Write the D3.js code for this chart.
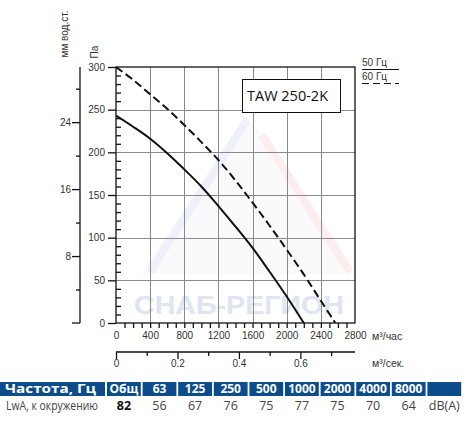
<!DOCTYPE html>
<html><head><meta charset="utf-8">
<script src="https://cdn.jsdelivr.net/npm/d3@7"></script>
<style>
html,body{margin:0;padding:0;background:#fff;}
svg{display:block;}
</style></head>
<body>
<svg id="c" width="472" height="424"></svg>
<script>
// ---- data ----
const flow50 = [0,200,400,600,800,1000,1200,1400,1600,1800,2000,2200];
const pa50   = [243,230,216,199,180,160,137,113,88,60,31,0];
const flow60 = [0,200,400,600,800,1000,1200,1400,1600,1800,2000,2200,2400,2570];
const pa60   = [300,285,268,251,232,212,191,167,141,114,86,57,26,0];
const paTicks = [0,50,100,150,200,250,300];
const mmMajor = [8,16,24];
const mmMinor = [4,12,20,28];
const flowTicks = [0,400,800,1200,1600,2000,2400,2800];
const secMajor = [0,0.2,0.4,0.6];
const secMinor = [0.1,0.3,0.5,0.7];
const legendLabels = ["50 Гц","60 Гц"];
const modelName = "TAW 250-2K";
const tableHeader = ["Частота, Гц","Общ","63","125","250","500","1000","2000","4000","8000",""];
const tableRowLabel = "LwA, к окружению";
const tableValues = ["82","56","67","76","75","77","75","70","64"];
const tableUnit = "dB(A)";

const svg = d3.select("#c");
const L=116,R=355,T=67,B=323;
const x = d3.scaleLinear().domain([0,2800]).range([L,R]);
const y = d3.scaleLinear().domain([0,300]).range([B,T]);
const yMm = d3.scaleLinear().domain([0,300/9.80665]).range([B,T]);
const xSec = d3.scaleLinear().domain([0,2800/3600]).range([L,R]);
const axisFont = "Liberation Sans, Arial, sans-serif";
const txtCol = "#333";

// watermark
const wm = svg.append("g").attr("opacity",0.08);
wm.append("path").attr("d","M140,274 L247,118 L262,135 L352,274 Z").attr("fill","#c8cde0");
wm.append("path").attr("d","M150,272 L247,120").attr("stroke","#3a55c0").attr("stroke-width",8).attr("fill","none");
wm.append("path").attr("d","M262,135 L350,272").attr("stroke","#e03030").attr("stroke-width",8).attr("fill","none");
svg.append("text").attr("x",134).attr("y",314).attr("textLength",210).attr("lengthAdjust","spacingAndGlyphs")
  .attr("font-family","Liberation Sans, Arial, sans-serif").attr("font-weight","bold").attr("font-size",26)
  .attr("fill","#e0e4f3").text("СНАБ-РЕГИОН");

// grid
const grid = svg.append("g").attr("stroke","#8a8a8a").attr("stroke-width",1);
flowTicks.slice(1,-1).forEach(v=>grid.append("line").attr("x1",Math.round(x(v))+0.5).attr("x2",Math.round(x(v))+0.5).attr("y1",T).attr("y2",B));
paTicks.slice(1,-1).forEach(v=>grid.append("line").attr("y1",Math.round(y(v))+0.5).attr("y2",Math.round(y(v))+0.5).attr("x1",L).attr("x2",R));

// frame
svg.append("rect").attr("x",L).attr("y",T).attr("width",R-L).attr("height",B-T)
  .attr("fill","none").attr("stroke","#111").attr("stroke-width",1.3);

// Pa axis (left)
const ya = svg.append("g").attr("transform",`translate(${L},0)`)
  .call(d3.axisLeft(y).tickValues(paTicks).tickSize(8).tickPadding(3));
ya.select(".domain").remove();
ya.selectAll("line").attr("stroke","#111").attr("stroke-width",1.3);
ya.selectAll("text").attr("font-family",axisFont).attr("font-size",10).attr("fill",txtCol);
const yMinor = d3.range(10,300,10).filter(v=>v%50!==0);
svg.append("g").attr("transform",`translate(${L},0)`)
  .call(d3.axisRight(y).tickValues(yMinor).tickSize(5).tickFormat(""))
  .call(g=>g.select(".domain").remove())
  .selectAll("line").attr("stroke","#111").attr("stroke-width",1.3);

// mm axis
const mmX = 80;
const mma = svg.append("g").attr("transform",`translate(${mmX},0)`)
  .call(d3.axisLeft(yMm).tickValues(mmMajor).tickSize(8).tickPadding(1));
mma.select(".domain").remove();
mma.selectAll("line").attr("stroke","#111").attr("stroke-width",1.3);
mma.selectAll("text").attr("font-family",axisFont).attr("font-size",10).attr("fill",txtCol);
svg.append("g").attr("transform",`translate(${mmX},0)`)
  .call(d3.axisLeft(yMm).tickValues(mmMinor).tickSize(4).tickFormat(""))
  .call(g=>g.select(".domain").remove())
  .selectAll("line").attr("stroke","#111").attr("stroke-width",1.3);
svg.append("line").attr("x1",mmX).attr("x2",mmX).attr("y1",T).attr("y2",B).attr("stroke","#111").attr("stroke-width",1.3);
svg.append("line").attr("x1",mmX-8).attr("x2",mmX).attr("y1",B).attr("y2",B).attr("stroke","#111").attr("stroke-width",1.3);

svg.append("text").attr("transform","translate(68,34) rotate(-90)").attr("text-anchor","middle")
  .attr("font-family",axisFont).attr("font-size",10).attr("fill",txtCol).text("мм вод.ст.");
svg.append("text").attr("transform","translate(98,52) rotate(-90)").attr("text-anchor","middle")
  .attr("font-family",axisFont).attr("font-size",10).attr("fill",txtCol).text("Па");

// flow axis (m3/h)
const xa = svg.append("g").attr("transform",`translate(0,${B})`)
  .call(d3.axisBottom(x).tickValues(flowTicks).tickSize(5).tickPadding(4).tickFormat(d3.format("d")));
xa.select(".domain").remove();
xa.selectAll("line").remove();
xa.selectAll("text").attr("font-family",axisFont).attr("font-size",10).attr("fill",txtCol);
svg.append("g").attr("transform",`translate(0,${B})`)
  .call(d3.axisBottom(x).tickValues(d3.range(100,2800,100)).tickSize(5).tickFormat(""))
  .call(g=>g.select(".domain").remove())
  .selectAll("line").attr("stroke","#111").attr("stroke-width",1.3);
svg.append("text").attr("x",372).attr("y",340).attr("font-family",axisFont).attr("font-size",10.5).attr("fill",txtCol).text("м³/час");

// m3/s axis
const secY = 352;
const sa = svg.append("g").attr("transform",`translate(0,${secY})`)
  .call(d3.axisBottom(xSec).tickValues(secMajor).tickSize(7).tickPadding(1).tickFormat(d=>d===0?"0":d3.format(".1f")(d)));
sa.select(".domain").remove();
sa.selectAll("line").attr("stroke","#111").attr("stroke-width",1.3);
sa.selectAll("text").attr("font-family",axisFont).attr("font-size",10).attr("fill",txtCol);
svg.append("g").attr("transform",`translate(0,${secY})`)
  .call(d3.axisBottom(xSec).tickValues(secMinor).tickSize(4).tickFormat(""))
  .call(g=>g.select(".domain").remove())
  .selectAll("line").attr("stroke","#111").attr("stroke-width",1.3);
svg.append("line").attr("x1",L).attr("x2",R).attr("y1",secY).attr("y2",secY).attr("stroke","#111").attr("stroke-width",1.3);
svg.append("text").attr("x",372).attr("y",367).attr("font-family",axisFont).attr("font-size",10.5).attr("fill",txtCol).text("м³/сек.");

// curves
const line = d3.line().x(d=>x(d[0])).y(d=>y(d[1])).curve(d3.curveCatmullRom.alpha(0.5));
svg.append("clipPath").attr("id","pc").append("rect").attr("x",L).attr("y",T-1).attr("width",R-L).attr("height",B-T+1);
svg.append("path").datum(d3.zip(flow50,pa50)).attr("d",line).attr("fill","none").attr("stroke","#111").attr("stroke-width",2).attr("clip-path","url(#pc)");
svg.append("path").datum(d3.zip(flow60,pa60)).attr("d",line).attr("fill","none").attr("stroke","#111").attr("stroke-width",2).attr("stroke-dasharray","8,4").attr("clip-path","url(#pc)");

// model box
svg.append("rect").attr("x",242.5).attr("y",79.5).attr("width",98).attr("height",33).attr("fill","#fff").attr("stroke","#111").attr("stroke-width",1);
svg.append("text").attr("x",247).attr("y",101).attr("font-family","Open Sans, sans-serif").attr("font-size",14.5).attr("fill","#111").text(modelName);

// legend
svg.append("text").attr("x",362).attr("y",66).attr("font-family",axisFont).attr("font-size",10).attr("fill",txtCol).text(legendLabels[0]);
svg.append("line").attr("x1",362).attr("x2",399).attr("y1",69.5).attr("y2",69.5).attr("stroke","#111").attr("stroke-width",1);
svg.append("text").attr("x",362).attr("y",80).attr("font-family",axisFont).attr("font-size",10).attr("fill",txtCol).text(legendLabels[1]);
svg.append("line").attr("x1",362).attr("x2",399).attr("y1",83.5).attr("y2",83.5).attr("stroke","#111").attr("stroke-width",1).attr("stroke-dasharray","7,4");

// table
const tFont = "Open Sans, sans-serif";
const hdrY = 382, hdrH = 14;
const blue = "#0d4c8b";
svg.append("rect").attr("x",0).attr("y",hdrY).attr("width",105).attr("height",hdrH).attr("fill",blue);
const colX = d3.scaleLinear().domain([0,10]).range([107,463]);
const cw = colX(1)-colX(0)-1.8;
for(let i=1;i<tableHeader.length;i++){
  const x0 = colX(i-1);
  svg.append("rect").attr("x",x0).attr("y",hdrY).attr("width",cw).attr("height",hdrH).attr("fill",blue);
  svg.append("text").attr("x",x0+cw/2).attr("y",hdrY+11).attr("text-anchor","middle")
    .attr("font-family",tFont).attr("font-weight","bold").attr("font-size",12).attr("fill","#fff").text(tableHeader[i]);
}
svg.append("text").attr("x",5).attr("y",hdrY+11).attr("font-family",tFont).attr("font-weight","bold").attr("font-size",12.5)
  .attr("textLength",91).attr("lengthAdjust","spacingAndGlyphs").attr("fill","#fff").text(tableHeader[0]);
const rowY = 409.5;
svg.append("text").attr("x",6).attr("y",rowY).attr("font-family",tFont).attr("font-size",12.5)
  .attr("textLength",92).attr("lengthAdjust","spacingAndGlyphs").attr("fill","#444").text(tableRowLabel);
tableValues.forEach((v,i)=>{
  svg.append("text").attr("x",colX(i)+cw/2).attr("y",rowY).attr("text-anchor","middle")
    .attr("font-family",tFont).attr("font-size",12.5).attr("font-weight",i===0?"bold":"normal")
    .attr("fill",i===0?"#111":"#444").text(v);
});
svg.append("text").attr("x",colX(9)+cw/2).attr("y",rowY).attr("text-anchor","middle")
  .attr("font-family",tFont).attr("font-size",12.5).attr("fill","#444").text(tableUnit);
</script>
</body></html>
